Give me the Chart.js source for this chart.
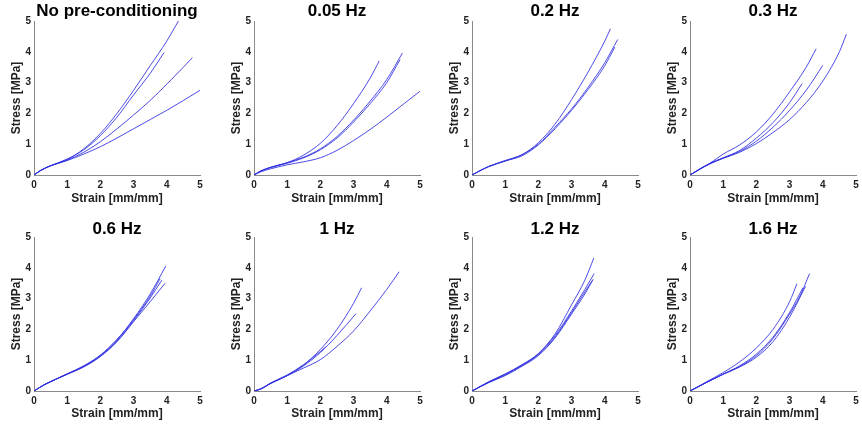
<!DOCTYPE html>
<html lang="en">
<head>
<meta charset="UTF-8">
<title>Stress-strain curves</title>
<style>
    body {
        margin: 0;
        background: #fff;
        width: 862px;
        height: 429px;
        overflow: hidden;
        position: relative;
    }
    canvas {
        position: absolute;
    }
</style>
<script src="https://cdn.jsdelivr.net/npm/chart.js"></script>
</head>
<body>

<script>
// panel titles, in reading order
var panelTitles = ['No pre-conditioning', '0.05 Hz', '0.2 Hz', '0.3 Hz', '0.6 Hz', '1 Hz', '1.2 Hz', '1.6 Hz'];

var tickValues = [0, 1, 2, 3, 4, 5];

// curves per panel, as [strain, stress] pairs
var curvesNoPre = [
    [[0,0],[0.2,0.15],[0.5,0.3],[1,0.5],[1.5,0.85],[2,1.35],[2.5,2.0],[3,2.75],[3.5,3.55],[4,4.35],[4.35,5.0]],
    [[0,0],[0.2,0.14],[0.5,0.3],[1,0.52],[1.5,0.82],[2,1.28],[2.5,1.88],[3,2.6],[3.5,3.3],[3.92,3.98]],
    [[0,0],[0.2,0.15],[0.5,0.3],[1,0.48],[1.5,0.74],[2,1.08],[2.5,1.5],[3,1.95],[3.5,2.42],[4,2.95],[4.5,3.5],[4.77,3.81]],
    [[0,0],[0.2,0.15],[0.5,0.3],[1,0.47],[1.5,0.68],[2,0.92],[2.5,1.2],[3,1.5],[3.5,1.8],[4,2.1],[4.5,2.42],[5,2.75]]
];
var curves005 = [
    [[0,0],[0.2,0.13],[0.5,0.25],[1,0.4],[1.5,0.65],[2,1.03],[2.5,1.6],[3,2.32],[3.5,3.15],[3.77,3.7]],
    [[0,0],[0.2,0.13],[0.5,0.25],[1,0.4],[1.5,0.58],[2,0.85],[2.5,1.25],[3,1.78],[3.5,2.4],[4,3.1],[4.47,3.96]],
    [[0,0],[0.2,0.12],[0.5,0.24],[1,0.38],[1.5,0.56],[2,0.82],[2.5,1.2],[3,1.72],[3.5,2.32],[4,3.0],[4.4,3.75]],
    [[0,0],[0.2,0.1],[0.5,0.2],[1,0.33],[1.5,0.43],[2,0.56],[2.5,0.8],[3,1.12],[3.5,1.48],[4,1.88],[4.5,2.3],[5,2.72]]
];
var curves02 = [
    [[0,0],[0.2,0.12],[0.5,0.27],[1,0.45],[1.5,0.65],[2,1.05],[2.5,1.65],[3,2.45],[3.5,3.35],[4,4.35],[4.17,4.75]],
    [[0,0],[0.2,0.12],[0.5,0.28],[1,0.47],[1.5,0.66],[2,1.0],[2.5,1.55],[3,2.15],[3.5,2.85],[4,3.65],[4.39,4.4]],
    [[0,0],[0.2,0.11],[0.5,0.27],[1,0.46],[1.5,0.62],[2,0.98],[2.5,1.5],[3,2.1],[3.5,2.78],[4,3.55],[4.3,4.15]]
];
var curves03 = [
    [[0,0],[0.3,0.2],[0.6,0.38],[1,0.68],[1.5,0.98],[2,1.4],[2.5,1.98],[3,2.7],[3.5,3.5],[3.8,4.1]],
    [[0,0],[0.3,0.2],[0.6,0.38],[1,0.56],[1.5,0.8],[2,1.2],[2.5,1.7],[3,2.35],[3.38,2.97]],
    [[0,0],[0.3,0.19],[0.6,0.37],[1,0.55],[1.5,0.77],[2,1.1],[2.5,1.55],[3,2.1],[3.5,2.75],[4,3.56]],
    [[0,0],[0.3,0.19],[0.6,0.36],[1,0.54],[1.5,0.74],[2,1.02],[2.5,1.38],[3,1.8],[3.5,2.35],[4,3.05],[4.5,4.0],[4.71,4.57]]
];
var curves06 = [
    [[0,0],[0.3,0.2],[0.7,0.4],[1,0.55],[1.5,0.8],[2,1.15],[2.5,1.65],[3,2.35],[3.5,3.15],[3.97,4.06]],
    [[0,0],[0.3,0.19],[0.7,0.4],[1,0.54],[1.5,0.78],[2,1.12],[2.5,1.6],[3,2.25],[3.5,2.9],[3.95,3.5]],
    [[0,0],[0.3,0.2],[0.7,0.41],[1,0.56],[1.5,0.82],[2,1.17],[2.5,1.68],[3,2.32],[3.5,3.08],[3.8,3.65]],
    [[0,0],[0.3,0.2],[0.7,0.4],[1,0.55],[1.5,0.8],[2,1.13],[2.5,1.62],[3,2.28],[3.5,3.02],[3.85,3.6]]
];
var curves1 = [
    [[0,0],[0.2,0.06],[0.5,0.25],[1,0.5],[1.5,0.85],[2,1.35],[2.5,2.0],[3,2.85],[3.24,3.35]],
    [[0,0],[0.2,0.07],[0.5,0.24],[1,0.5],[1.5,0.82],[2,1.25],[2.5,1.8],[3.07,2.51]],
    [[0,0],[0.2,0.06],[0.5,0.25],[1,0.5],[1.5,0.75],[2,1.02],[2.5,1.45],[3,1.95],[3.5,2.6],[4,3.3],[4.37,3.87]],
    [[0,0],[0.2,0.07],[0.5,0.26],[1,0.52],[1.5,0.86],[2,1.28],[2.16,1.43]]
];
var curves12 = [
    [[0,0],[0.5,0.3],[1,0.55],[1.5,0.85],[2,1.22],[2.5,1.85],[3,2.8],[3.4,3.6],[3.67,4.32]],
    [[0,0],[0.5,0.28],[1,0.52],[1.5,0.82],[2,1.2],[2.5,1.8],[3,2.6],[3.4,3.3],[3.68,3.81]],
    [[0,0],[0.5,0.27],[1,0.5],[1.5,0.8],[2,1.15],[2.5,1.72],[3,2.5],[3.4,3.15],[3.65,3.63]],
    [[0,0],[0.5,0.29],[1,0.55],[1.5,0.84],[2,1.18],[2.5,1.75],[3,2.55],[3.4,3.22],[3.62,3.58]]
];
var curves16 = [
    [[0,0],[0.5,0.3],[1,0.6],[1.5,0.95],[2,1.4],[2.5,2.0],[3,2.9],[3.22,3.48]],
    [[0,0],[0.5,0.28],[1,0.55],[1.5,0.8],[2,1.15],[2.5,1.7],[3,2.5],[3.3,3.05],[3.6,3.81]],
    [[0,0],[0.5,0.28],[1,0.54],[1.5,0.78],[2,1.1],[2.5,1.6],[3,2.4],[3.48,3.4]],
    [[0,0],[0.5,0.28],[1,0.55],[1.5,0.82],[2,1.2],[2.5,1.75],[3,2.55],[3.4,3.35]]
];

var panelCurves = [curvesNoPre, curves005, curves02, curves03, curves06, curves1, curves12, curves16];

// layout: plot area placement for the 2x4 grid
var plotLefts = [34, 254, 472, 690];
var rowTops = [0, 216];
var rowHeights = [214, 213];
var yAxisWidth = 34;
var titleBlock = 21;
var plotHeight = 154;
var plotWidth = 166;
var rightPad = 8;

var FONT = "'Liberation Sans', Arial, sans-serif";

for (var i = 0; i < 8; i++) {
    var row = Math.floor(i / 4);
    var col = i % 4;
    var canvas = document.createElement('canvas');
    var w = yAxisWidth + plotWidth + rightPad;
    var h = rowHeights[row];
    canvas.width = w;
    canvas.height = h;
    canvas.style.left = (plotLefts[col] - yAxisWidth) + 'px';
    canvas.style.top = rowTops[row] + 'px';
    document.body.appendChild(canvas);

    var xHeight = h - titleBlock - plotHeight;
    var titlePad = row === 0 ? {top: 2, bottom: 0} : {top: 6, bottom: 0};
    var titleLH = row === 0 ? 19 / 17 : 15 / 17;

    var datasets = panelCurves[i].map(function(c) {
        return {
            data: c,
            borderColor: 'rgba(45, 45, 225, 0.85)',
            borderWidth: 1,
            pointRadius: 0,
            fill: false,
            cubicInterpolationMode: 'monotone'
        };
    });

    new Chart(canvas.getContext('2d'), {
        type: 'line',
        data: { datasets: datasets },
        options: {
            responsive: false,
            animation: false,
            devicePixelRatio: 1,
            layout: { padding: { left: 0, right: rightPad, top: 0, bottom: 0 } },
            plugins: {
                legend: { display: false },
                tooltip: { enabled: false },
                title: {
                    display: true,
                    text: panelTitles[i],
                    fullSize: false,
                    color: '#000',
                    font: { family: FONT, size: 17, weight: 'bold', lineHeight: titleLH },
                    padding: titlePad
                }
            },
            scales: {
                x: {
                    type: 'linear',
                    min: 0,
                    max: 5,
                    afterBuildTicks: function(s) { s.ticks = tickValues.map(function(v) { return {value: v}; }); },
                    afterFit: (function(hh) { return function(s) { s.height = hh; }; })(xHeight),
                    grid: { display: false, drawTicks: false },
                    border: { display: true, color: '#8a8a8a', width: 1 },
                    ticks: { color: '#222', padding: 4, maxRotation: 0, font: { family: FONT, size: 10, weight: 'bold' } },
                    title: {
                        display: true,
                        text: 'Strain [mm/mm]',
                        color: '#222',
                        font: { family: FONT, size: 12, weight: 'bold' },
                        padding: { top: 0, bottom: 8 }
                    }
                },
                y: {
                    type: 'linear',
                    min: 0,
                    max: 5,
                    afterBuildTicks: function(s) { s.ticks = tickValues.map(function(v) { return {value: v}; }); },
                    afterFit: function(s) { s.width = yAxisWidth; },
                    grid: { display: false, drawTicks: false },
                    border: { display: true, color: '#8a8a8a', width: 1 },
                    ticks: { color: '#222', padding: 3, font: { family: FONT, size: 10, weight: 'bold' } },
                    title: {
                        display: true,
                        text: 'Stress [MPa]',
                        color: '#222',
                        font: { family: FONT, size: 12, weight: 'bold' },
                        padding: { top: 9, bottom: 0 }
                    }
                }
            }
        }
    });
}
</script>
</body>
</html>
